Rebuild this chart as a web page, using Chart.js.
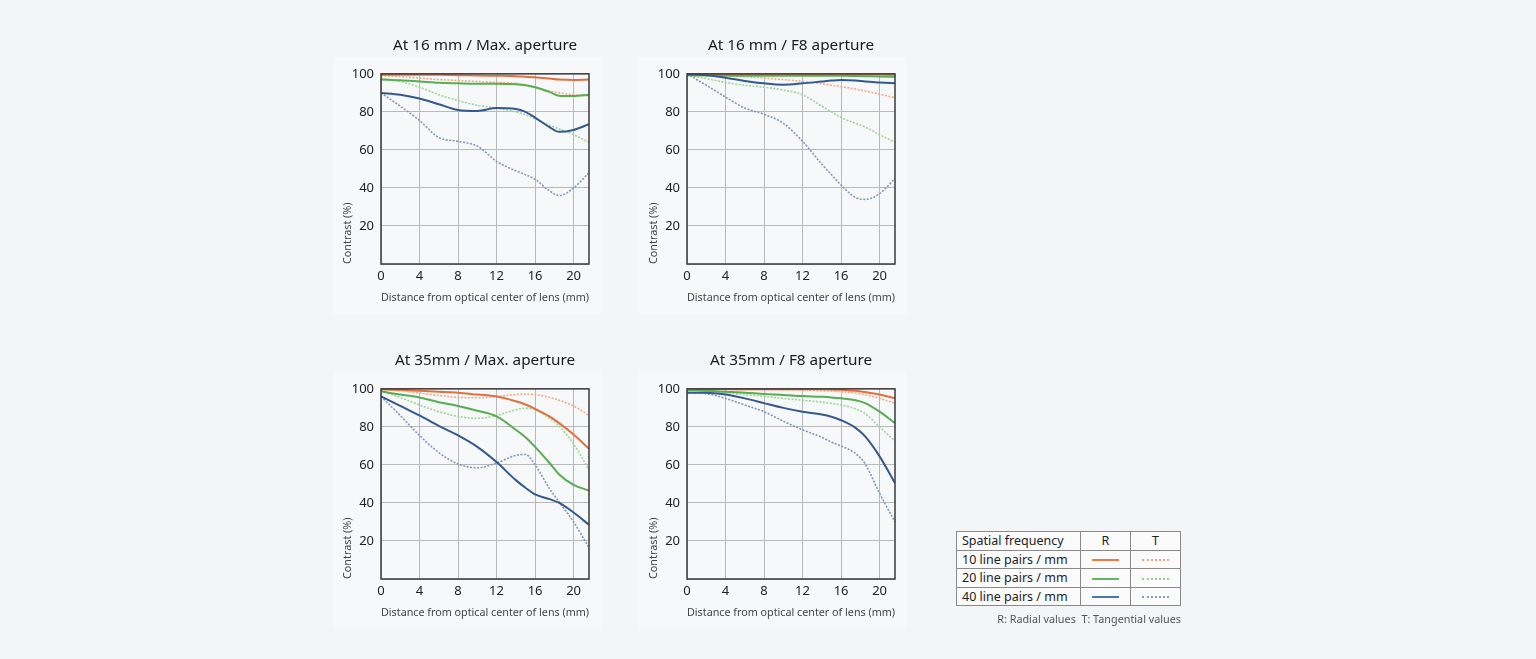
<!DOCTYPE html>
<html>
<head>
<meta charset="utf-8">
<script src="https://cdn.jsdelivr.net/npm/chart.js@4"></script>
<style>
  body { margin: 0; background: #f4f5f7; font-family: "Noto Sans", sans-serif; }
  .box { position: absolute; width: 270px; height: 285px; }
  .panel { position: absolute; width: 268px; height: 258px; background: #f7f8f9; }
  table.freq { position: absolute; left: 956px; top: 531px; width: 225px; border-collapse: collapse;
    font-size: 12.5px; color: #222; background: #fbfbfc; }
  table.freq td { border: 1px solid #8a8a8a; height: 17.5px; padding: 0 0 0 5px; line-height: 17px; white-space: nowrap; }
  table.freq td.c { text-align: center; padding: 0; width: 49px; }
  .s { display: inline-block; width: 27px; height: 0; vertical-align: middle; border-top: 2px solid; }
  .d { display: inline-block; width: 27px; height: 0; vertical-align: middle; border-top: 2px dotted; }
  .note { position: absolute; left: 880px; width: 301px; top: 611px; text-align: right; font-size: 10.8px; color: #555; }
</style>
</head>
<body>
<div class="panel" style="left:333px;top:57px"></div>
<div class="panel" style="left:639px;top:57px"></div>
<div class="panel" style="left:333px;top:372px"></div>
<div class="panel" style="left:639px;top:372px"></div>
<div class="box" style="left:333px;top:30px"><canvas id="c1"></canvas></div>
<div class="box" style="left:639px;top:30px"><canvas id="c2"></canvas></div>
<div class="box" style="left:333px;top:345px"><canvas id="c3"></canvas></div>
<div class="box" style="left:639px;top:345px"><canvas id="c4"></canvas></div>

<table class="freq">
  <tr><td>Spatial frequency</td><td class="c">R</td><td class="c">T</td></tr>
  <tr><td>10 line pairs / mm</td><td class="c"><span class="s" style="border-color:#ee7a4a"></span></td><td class="c"><span class="d" style="border-color:#f0a27e"></span></td></tr>
  <tr><td>20 line pairs / mm</td><td class="c"><span class="s" style="border-color:#66b562"></span></td><td class="c"><span class="d" style="border-color:#94cf8c"></span></td></tr>
  <tr><td>40 line pairs / mm</td><td class="c"><span class="s" style="border-color:#4a76b0"></span></td><td class="c"><span class="d" style="border-color:#849dc6"></span></td></tr>
</table>
<div class="note">R: Radial values&nbsp; T: Tangential values</div>

<script>
// distance from optical center (mm) where values were read
const distance = [0, 2, 4, 6, 8, 10, 12, 14, 15, 16, 17.5, 18.5, 20, 21.6];
const yTicks = [20, 40, 60, 80, 100];

// At 16 mm / Max. aperture
const w16maxR10 = [99.5, 99.5, 99.5, 99.5, 99.3, 99.2, 99, 98.8, 98.5, 98.2, 97.5, 97, 96.8, 97];
const w16maxT10 = [99, 98.5, 97.8, 97, 96.5, 96, 95.5, 95, 94.2, 93, 91, 90, 89, 88.5];
const w16maxR20 = [97, 96.6, 96, 95.3, 95, 94.8, 94.8, 94.5, 94, 93, 90.5, 88.5, 88.3, 89];
const w16maxT20 = [97.5, 96, 93, 89, 86, 83.5, 82, 80, 78.5, 76.5, 73, 71, 68, 64];
const w16maxR40 = [90, 89, 87, 84, 81, 80.5, 82, 81.5, 80, 77, 72, 69.5, 70.5, 73.5];
const w16maxT40 = [90, 83, 75.5, 66.5, 64.5, 62, 54, 49, 47, 44.5, 38.5, 36, 40, 48];

// At 16 mm / F8 aperture
const w16f8R10 = [99.7, 99.7, 99.7, 99.7, 99.7, 99.7, 99.7, 99.7, 99.7, 99.7, 99.7, 99.7, 99.6, 99.5];
const w16f8T10 = [100, 99.5, 99, 98.5, 97.8, 97, 96, 94.8, 94, 93.3, 92, 91, 89.3, 87.5];
const w16f8R20 = [99.3, 99.2, 99.1, 99, 99, 99, 99, 99, 99, 99, 98.9, 98.8, 98.6, 98.5];
const w16f8T20 = [99.5, 97.5, 95.5, 94, 93, 91.5, 89, 83, 80, 77, 74, 72, 68, 64];
const w16f8R40 = [99.7, 99.3, 98, 96.3, 95, 94.3, 95, 96, 96.5, 96.8, 96.5, 96, 95.5, 95];
const w16f8T40 = [100, 94, 87.8, 82, 78.8, 74, 64.5, 52.5, 47, 41.5, 35, 34, 37, 45];

// At 35mm / Max. aperture
const w35maxR10 = [99.8, 99.5, 99, 98.5, 98, 97, 96, 93.5, 91.8, 89.5, 85.5, 82, 76, 68.5];
const w35maxT10 = [99.8, 99, 97.8, 96.5, 95.5, 95.3, 96, 97, 97.2, 97, 95.5, 94, 91, 86];
const w35maxR20 = [98.7, 97, 95.5, 93, 91, 88.5, 85.5, 78.5, 74.5, 69.5, 61, 55, 49.5, 46.5];
const w35maxT20 = [99, 95.5, 91.5, 88, 85.5, 84.5, 86, 89, 89.8, 89, 84.5, 80.5, 71, 57.5];
const w35maxR40 = [96, 91, 86, 80.5, 75.5, 69.5, 61.5, 52, 48, 44.5, 42, 40, 35, 28.5];
const w35maxT40 = [96, 86, 75.5, 66.5, 60.5, 58.5, 61, 65, 65.5, 60, 47.5, 40.5, 30, 16.5];

// At 35mm / F8 aperture
const w35f8R10 = [99.8, 99.8, 99.8, 99.8, 99.8, 99.8, 99.8, 99.8, 99.7, 99.5, 99, 98.3, 97, 95];
const w35f8T10 = [99.8, 99.8, 99.8, 99.7, 99.7, 99.6, 99.5, 99, 98.8, 98.5, 97.8, 97, 95, 92.5];
const w35f8R20 = [99.3, 99, 98.5, 98, 97.3, 96.8, 96.2, 95.8, 95.5, 95, 94, 92.5, 88, 82];
const w35f8T20 = [99.5, 99, 98, 97, 96, 95, 94, 93, 92.3, 91.5, 89.5, 87, 80, 72.5];
const w35f8R40 = [98, 98, 97, 95, 92.5, 90, 88, 86.5, 85.3, 83.5, 79.5, 75, 64.5, 50.5];
const w35f8T40 = [98, 97.5, 95, 91.5, 88, 83, 78.5, 74.5, 72, 70, 66, 60.5, 45, 30];

const lineStyles = {
  R10: { color: '#e2703f', dash: [] },
  R20: { color: '#58ad52', dash: [] },
  R40: { color: '#34598c', dash: [] },
  T10: { color: '#f1a884', dash: [2, 1.5] },
  T20: { color: '#9dd395', dash: [2, 1.5] },
  T40: { color: '#8196b9', dash: [2, 1.5] }
};

// frame round the plot area
const framePlugin = {
  id: 'frame',
  afterDatasetsDraw(chart) {
    const a = chart.chartArea;
    const ctx = chart.ctx;
    ctx.save();
    ctx.strokeStyle = '#3a3a3a';
    ctx.lineWidth = 1.5;
    ctx.strokeRect(a.left, a.top, a.right - a.left, a.bottom - a.top);
    ctx.restore();
  }
};

function makeChart(id, title, series) {
  // R lines first so they are drawn on top
  const order = ['R40', 'R20', 'R10', 'T40', 'T20', 'T10'];
  const datasets = order.map(key => ({
    label: key,
    data: distance.map((d, i) => ({ x: d, y: series[key][i] })),
    borderColor: lineStyles[key].color,
    borderDash: lineStyles[key].dash,
    borderWidth: key[0] === 'R' ? 2 : 1.6,
    pointRadius: 0,
    fill: false,
    cubicInterpolationMode: 'monotone'
  }));

  return new Chart(document.getElementById(id), {
    type: 'line',
    data: { datasets: datasets },
    plugins: [framePlugin],
    options: {
      responsive: true,
      maintainAspectRatio: false,
      animation: false,
      layout: { padding: { left: 0, right: 14, top: 0, bottom: 0 } },
      plugins: {
        legend: { display: false },
        tooltip: { enabled: false },
        title: {
          display: true,
          text: title,
          fullSize: false,
          color: '#1a1a1a',
          font: { family: 'Noto Sans', size: 15.3, weight: 'normal' },
          padding: { top: 6, bottom: 19.5 }
        }
      },
      scales: {
        x: {
          type: 'linear',
          min: 0,
          max: 21.6,
          afterFit: s => { s.height = 51; },
          ticks: { stepSize: 4, includeBounds: false, padding: 4, maxRotation: 0, color: '#222',
            font: { family: 'Noto Sans', size: 13 } },
          grid: { color: '#b9b9b9', lineWidth: 1, drawTicks: false },
          border: { display: false },
          title: { display: true, text: 'Distance from optical center of lens (mm)', color: '#444',
            font: { family: 'Noto Sans', size: 10.8 }, padding: { top: 0, bottom: 11 } }
        },
        y: {
          min: 0,
          max: 100,
          afterFit: s => { s.width = 48; },
          afterBuildTicks: s => { s.ticks = [0].concat(yTicks).map(v => ({ value: v })); },
          ticks: { padding: 7, color: '#222', font: { family: 'Noto Sans', size: 13 },
            callback: v => (v === 0 ? '' : v) },
          grid: { color: '#b9b9b9', lineWidth: 1, drawTicks: false },
          border: { display: false },
          title: { display: true, text: 'Contrast (%)', align: 'start', color: '#444',
            font: { family: 'Noto Sans', size: 10.8 }, padding: { top: 8, bottom: 0 } }
        }
      }
    }
  });
}

makeChart('c1', 'At 16 mm / Max. aperture',
  { R10: w16maxR10, T10: w16maxT10, R20: w16maxR20, T20: w16maxT20, R40: w16maxR40, T40: w16maxT40 });
makeChart('c2', 'At 16 mm / F8 aperture',
  { R10: w16f8R10, T10: w16f8T10, R20: w16f8R20, T20: w16f8T20, R40: w16f8R40, T40: w16f8T40 });
makeChart('c3', 'At 35mm / Max. aperture',
  { R10: w35maxR10, T10: w35maxT10, R20: w35maxR20, T20: w35maxT20, R40: w35maxR40, T40: w35maxT40 });
makeChart('c4', 'At 35mm / F8 aperture',
  { R10: w35f8R10, T10: w35f8T10, R20: w35f8R20, T20: w35f8T20, R40: w35f8R40, T40: w35f8T40 });
</script>
</body>
</html>
